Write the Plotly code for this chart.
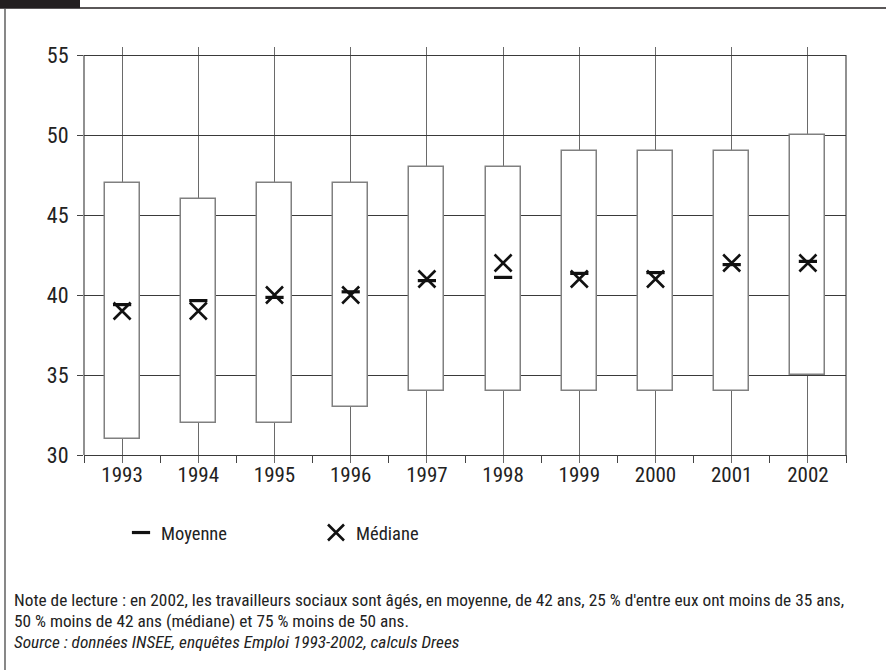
import plotly.graph_objects as go

years = [1993, 1994, 1995, 1996, 1997, 1998, 1999, 2000, 2001, 2002]
q1 = [31, 32, 32, 33, 34, 34, 34, 34, 34, 35]
q3 = [47, 46, 47, 47, 48, 48, 49, 49, 49, 50]
median = [39, 39, 40, 40, 41, 42, 41, 41, 42, 42]
mean = [39.4, 39.65, 39.85, 40.2, 40.9, 41.1, 41.35, 41.4, 41.9, 42.1]
y_ticks = [30, 35, 40, 45, 50, 55]

note_lines = [
    "Note de lecture : en 2002, les travailleurs sociaux sont âgés, en moyenne, de 42 ans, 25 % d'entre eux ont moins de 35 ans,",
    "50 % moins de 42 ans (médiane) et 75 % moins de 50 ans.",
]
source_line = "Source : données INSEE, enquêtes Emploi 1993-2002, calculs Drees"

FONT = "Liberation Sans Narrow, Roboto Condensed, Arial Narrow, Roboto, sans-serif"
W, H = 886, 670
ML, MR, MT, MB = 84, 40, 47, 207
PW, PH = W - ML - MR, H - MT - MB


def px_x(px):
    return (px - ML) / PW


def px_y(py):
    return (H - MB - py) / PH


fig = go.Figure()

fig.add_trace(go.Bar(
    x=years, base=q1, y=[b - a for a, b in zip(q1, q3)],
    width=0.46, marker=dict(color="white", line=dict(color="#808080", width=1.5)),
    showlegend=False, hoverinfo="skip",
))
fig.add_trace(go.Scatter(
    x=years, y=mean, mode="markers", name="Moyenne",
    marker=dict(symbol="line-ew", size=13, color="#111",
                line=dict(color="#111", width=3.2)),
))
fig.add_trace(go.Scatter(
    x=years, y=median, mode="markers", name="Médiane",
    marker=dict(symbol="x-thin", size=17, color="#111",
                line=dict(color="#111", width=2.6)),
))

shapes = []
# y axis line and right border of plot area, from first to last tick
for xp in (0, 1):
    shapes.append(dict(type="line", xref="paper", yref="y", x0=xp, x1=xp,
                       y0=min(y_ticks), y1=max(y_ticks),
                       line=dict(color="#555", width=1.3), layer="below"))
# frame: black tab, top line, left border
shapes.append(dict(type="rect", xref="paper", yref="paper",
                   x0=px_x(0), x1=px_x(80), y0=px_y(8), y1=px_y(0),
                   fillcolor="#231f20", line=dict(width=0)))
shapes.append(dict(type="line", xref="paper", yref="paper",
                   x0=px_x(0), x1=px_x(886), y0=px_y(8), y1=px_y(8),
                   line=dict(color="#231f20", width=1.6)))
shapes.append(dict(type="line", xref="paper", yref="paper",
                   x0=px_x(5), x1=px_x(5), y0=px_y(8), y1=px_y(670),
                   line=dict(color="#555", width=1.4)))

annotations = []
for i, t in enumerate(note_lines):
    annotations.append(dict(text=t, xref="paper", yref="paper",
                            x=px_x(12), y=px_y(600 + 21 * i), xanchor="left",
                            yanchor="middle", showarrow=False,
                            font=dict(family=FONT, size=17.3, color="#222")))
annotations.append(dict(text="<i>" + source_line + "</i>", xref="paper", yref="paper",
                        x=px_x(12), y=px_y(642), xanchor="left", yanchor="middle",
                        showarrow=False, font=dict(family=FONT, size=17.3, color="#222")))

fig.update_layout(
    width=W, height=H,
    margin=dict(l=ML, r=MR, t=MT, b=MB),
    paper_bgcolor="white", plot_bgcolor="white",
    font=dict(family=FONT, size=18, color="#222"),
    hovermode=False,
    bargap=0,
    shapes=shapes,
    annotations=annotations,
    legend=dict(orientation="h", x=px_x(121), y=px_y(514), xanchor="left", yanchor="top",
                entrywidth=150, entrywidthmode="pixels",
                font=dict(family=FONT, size=18.5, color="#222"),
                bgcolor="rgba(0,0,0,0)"),
    xaxis=dict(
        range=[years[0] - 0.5, years[-1] + 0.5],
        tickmode="array", tickvals=years, ticktext=[str(y) for y in years],
        showgrid=True, gridcolor="#6a6a6a", gridwidth=1.3,
        ticks="", showline=False, zeroline=False,
        minor=dict(tickmode="linear", tick0=years[0] - 0.5, dtick=1,
                   ticks="inside", ticklen=8, tickcolor="#444", tickwidth=1.2,
                   showgrid=False),
        tickfont=dict(family=FONT, size=21, color="#222"),
        ticklabelstandoff=-3,
    ),
    yaxis=dict(
        range=[y_ticks[0] - 0.5, y_ticks[-1] + 0.5],
        tickmode="array", tickvals=y_ticks,
        showgrid=True, gridcolor="#3a3a3a", gridwidth=1.3,
        ticks="outside", ticklen=6, tickcolor="#444", tickwidth=1.3,
        showline=False, zeroline=False,
        tickfont=dict(family=FONT, size=22, color="#222"),
        ticklabelstandoff=4,
    ),
)

fig.write_html("out.html", config={"displayModeBar": False},
               post_script="document.body.style.margin='0px';")
